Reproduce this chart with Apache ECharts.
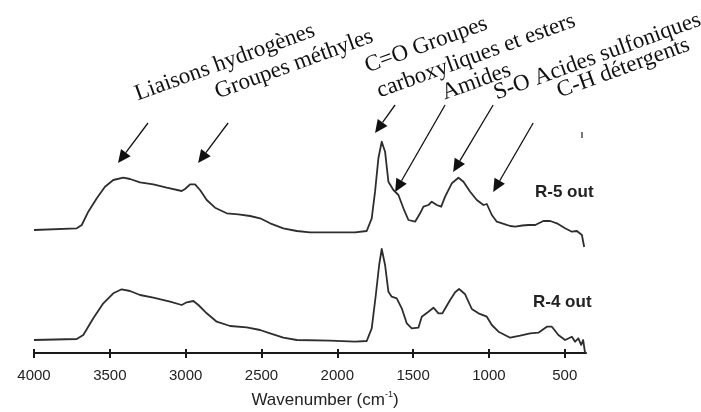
<!DOCTYPE html>
<html>
<head>
<meta charset="utf-8">
<script src="https://cdn.jsdelivr.net/npm/echarts@6/dist/echarts.min.js"></script>
<style>
  html, body { margin: 0; padding: 0; background: #fff; }
  #chart { width: 701px; height: 412px; }
</style>
</head>
<body>
<div id="chart"></div>
<script>
// FTIR spectra: [wavenumber (cm-1), absorbance (a.u., stacked offset)]
const r5Spectrum = [
  [4000,1.23],[3718,1.247],[3685,1.28],[3642,1.413],[3586,1.547],[3532,1.663],[3477,1.73],
  [3411,1.753],[3367,1.74],[3301,1.707],[3213,1.687],[3125,1.653],[3026,1.62],[3004,1.64],
  [2971,1.687],[2938,1.687],[2905,1.63],[2861,1.53],[2806,1.453],[2729,1.397],[2652,1.387],
  [2575,1.37],[2509,1.347],[2443,1.297],[2356,1.247],[2267,1.22],[2180,1.207],[2048,1.207],
  [1883,1.207],[1806,1.22],[1773,1.347],[1751,1.613],[1729,1.947],[1707,2.113],[1685,2.013],
  [1663,1.713],[1630,1.63],[1597,1.58],[1564,1.447],[1531,1.33],[1487,1.313],[1454,1.397],
  [1432,1.463],[1399,1.48],[1377,1.513],[1344,1.48],[1315,1.463],[1289,1.563],[1245,1.697],
  [1201,1.753],[1168,1.713],[1124,1.613],[1080,1.53],[1036,1.48],[1014,1.49],[981,1.38],
  [948,1.313],[893,1.287],[860,1.27],[827,1.263],[780,1.275],[740,1.28],[695,1.28],
  [641,1.32],[596,1.32],[552,1.297],[498,1.247],[453,1.213],[420,1.22],[387,1.18],[372,1.06]
];
const r4Spectrum = [
  [4000,0.13],[3718,0.14],[3675,0.18],[3609,0.347],[3543,0.497],[3477,0.597],[3422,0.637],
  [3367,0.62],[3301,0.58],[3213,0.553],[3103,0.513],[3026,0.48],[2993,0.507],[2949,0.52],
  [2916,0.48],[2861,0.397],[2795,0.313],[2707,0.27],[2597,0.257],[2509,0.23],[2443,0.197],
  [2356,0.153],[2267,0.13],[2048,0.123],[1883,0.113],[1806,0.12],[1773,0.247],[1746,0.58],
  [1724,0.88],[1707,1.04],[1685,0.88],[1663,0.613],[1641,0.563],[1608,0.547],[1575,0.447],
  [1542,0.297],[1509,0.247],[1465,0.253],[1443,0.363],[1399,0.413],[1366,0.453],[1333,0.397],
  [1307,0.397],[1256,0.53],[1223,0.607],[1197,0.64],[1157,0.587],[1113,0.44],[1069,0.397],
  [1014,0.363],[981,0.28],[937,0.213],[860,0.153],[794,0.173],[728,0.197],[674,0.203],
  [618,0.263],[585,0.263],[542,0.18],[498,0.13],[453,0.163],[432,0.113],[410,0.147],
  [392,0.08],[379,0.13],[366,0.0]
];
const tickValues = [4000, 3500, 3000, 2500, 2000, 1500, 1000, 500];
const seriesNames = ['R-5 out', 'R-4 out'];

// Band assignments: label text, baseline start (px), arrow tip in data space, arrow tail offset (px)
const bandLabels = [
  'Liaisons hydrogènes', 'Groupes méthyles', 'C=O Groupes', 'carboxyliques et esters',
  'Amides', 'S-O Acides sulfoniques', 'C-H détergents'
];
const bandLabelPos = [[138,101],[218,99],[368,73],[380,98],[445,100],[497,100],[560,98]];
const arrowTips = [[3446,1.90],[2918,1.90],[1751,2.20],[1619,1.61],[1236,1.81],[972,1.61]];
const arrowTails = [[30,-40],[30,-40],[20,-28],[50,-87],[40,-67],[40,-69]];

const chart = echarts.init(document.getElementById('chart'), null, { renderer: 'canvas' });

const lineColor = '#2e2e2e';
const sans = '"Liberation Sans", Arial, sans-serif';
const serif = '"Liberation Serif", "Times New Roman", serif';

const baseAxis = {
  type: 'value', min: 360, max: 4000, inverse: true, gridIndex: 0, position: 'bottom', offset: 0,
  splitLine: { show: false }
};

chart.setOption({
  animation: false,
  backgroundColor: '#fff',
  grid: { left: 34, right: 115, top: 103, bottom: 59 },
  xAxis: [
    Object.assign({}, baseAxis, {
      axisLine: { lineStyle: { color: '#1a1a1a', width: 2 } },
      axisTick: { inside: true, length: 4, customValues: tickValues, lineStyle: { color: '#1a1a1a', width: 2 } },
      axisLabel: { customValues: tickValues, margin: 15, fontSize: 15, color: '#222', fontFamily: sans,
        formatter: function (v) { return String(v); } }
    }),
    Object.assign({}, baseAxis, {
      axisLine: { show: false },
      axisTick: { inside: false, length: 5, customValues: tickValues, lineStyle: { color: '#1a1a1a', width: 2 } },
      axisLabel: { show: false }
    })
  ],
  yAxis: { type: 'value', min: 0, max: 2.5, show: false },
  series: [
    { name: seriesNames[0], type: 'line', data: r5Spectrum, showSymbol: false, smooth: false,
      lineStyle: { color: lineColor, width: 1.8, join: 'round' } },
    { name: seriesNames[1], type: 'line', data: r4Spectrum, showSymbol: false, smooth: false,
      lineStyle: { color: lineColor, width: 1.8, join: 'round' } }
  ]
});

// Annotations: series labels, axis title, band labels and arrows
const graphics = [];

graphics.push({ type: 'text', x: 535, y: 192, style: { text: seriesNames[0], fill: '#222',
  font: 'bold 17px ' + sans, verticalAlign: 'middle' } });
graphics.push({ type: 'text', x: 533, y: 302, style: { text: seriesNames[1], fill: '#222',
  font: 'bold 17px ' + sans, verticalAlign: 'middle' } });
graphics.push({ type: 'rect', shape: { x: 581, y: 132, width: 2, height: 6 }, style: { fill: '#777' } });

graphics.push({
  type: 'text', x: 325, y: 400,
  style: {
    text: '{a|Wavenumber (cm}{s|-1}{a|)}',
    align: 'center', verticalAlign: 'middle',
    rich: {
      a: { fontSize: 17, fontFamily: sans, fill: '#222', lineHeight: 20 },
      s: { fontSize: 9, fontFamily: sans, fill: '#222', lineHeight: 20, verticalAlign: 'top', padding: [0, 0, 8, 0] }
    }
  }
});

const rot = 20 * Math.PI / 180;
bandLabels.forEach(function (t, i) {
  graphics.push({
    type: 'text', x: bandLabelPos[i][0], y: bandLabelPos[i][1], rotation: rot,
    style: { text: t, x: 0, y: 5, font: '23px ' + serif, fill: '#111', align: 'left', verticalAlign: 'bottom' }
  });
});

arrowTips.forEach(function (tip, i) {
  const p = chart.convertToPixel({ xAxisIndex: 0, yAxisIndex: 0 }, tip);
  const tail = [p[0] + arrowTails[i][0], p[1] + arrowTails[i][1]];
  const dx = p[0] - tail[0], dy = p[1] - tail[1];
  const len = Math.sqrt(dx * dx + dy * dy);
  const ux = dx / len, uy = dy / len;
  const headLen = 13, headHalf = 6;
  const bx = p[0] - ux * headLen, by = p[1] - uy * headLen;
  graphics.push({ type: 'line', shape: { x1: tail[0], y1: tail[1], x2: bx, y2: by },
    style: { stroke: '#111', lineWidth: 1.3 } });
  graphics.push({ type: 'polygon', shape: { points: [
      [p[0], p[1]], [bx - uy * headHalf, by + ux * headHalf], [bx + uy * headHalf, by - ux * headHalf]
    ] }, style: { fill: '#111' } });
});

chart.setOption({ graphic: graphics });
</script>
</body>
</html>
